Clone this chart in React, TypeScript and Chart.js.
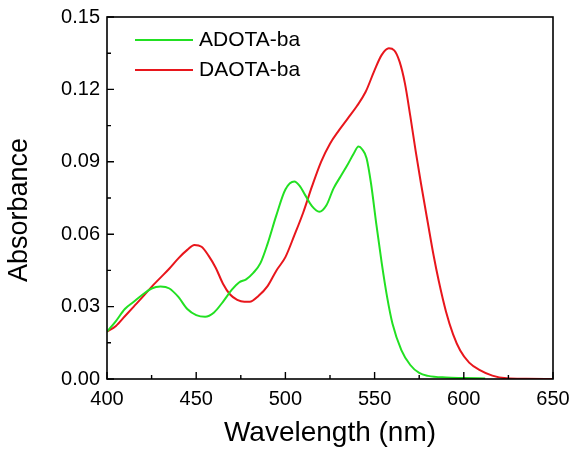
import React, { useEffect, useRef } from 'react';
import { Chart, registerables } from 'chart.js';

Chart.register(...registerables);

const adotaNm = [400, 405, 410, 415, 420, 425, 430, 435, 440, 445, 450, 455, 460, 465, 470, 474, 478, 482, 486, 490, 495, 500, 505, 508, 511, 515, 519, 523, 527, 531, 535, 538, 541, 543, 545.5, 548, 551, 554, 557, 560, 565, 570, 575, 580, 590, 600, 612];
const adotaAbs = [0.0196, 0.024, 0.029, 0.032, 0.035, 0.0375, 0.0383, 0.0375, 0.034, 0.029, 0.0265, 0.0258, 0.0276, 0.032, 0.037, 0.04, 0.0413, 0.044, 0.048, 0.056, 0.068, 0.0785, 0.0818, 0.08, 0.0763, 0.0715, 0.0693, 0.072, 0.079, 0.084, 0.089, 0.093, 0.0963, 0.0952, 0.0915, 0.081, 0.064, 0.048, 0.034, 0.023, 0.012, 0.0058, 0.0025, 0.0013, 0.0006, 0.0004, 0.0002];

const daotaNm = [400, 405, 410, 415, 420, 425, 430, 435, 440, 445, 449, 453, 457, 461, 465, 469, 473, 477, 480, 485, 490, 495, 500, 505, 510, 515, 520, 525, 530, 535, 540, 545, 550, 554, 558, 561, 564, 567, 570, 573, 576, 580, 583, 586, 590, 594, 598, 603, 609, 616, 624, 635, 650];
const daotaAbs = [0.0196, 0.022, 0.026, 0.03, 0.034, 0.0382, 0.042, 0.0458, 0.05, 0.0535, 0.0555, 0.0548, 0.051, 0.046, 0.0395, 0.035, 0.0328, 0.032, 0.032, 0.0345, 0.0385, 0.045, 0.0505, 0.0595, 0.069, 0.08, 0.09, 0.0975, 0.103, 0.108, 0.113, 0.119, 0.128, 0.1343, 0.137, 0.1362, 0.1315, 0.1225, 0.109, 0.0945, 0.081, 0.064, 0.0515, 0.0405, 0.028, 0.0185, 0.0118, 0.0068, 0.0037, 0.0014, 0.0003, 0.0001, 0];

const seriesNames = ['ADOTA-ba', 'DAOTA-ba'];
const seriesColors = ['#22e022', '#e8161c'];

const xMajorTicks = [400, 450, 500, 550, 600, 650];
const xMinorTicks = [425, 475, 525, 575, 625];
const yMajorTicks = [0, 0.03, 0.06, 0.09, 0.12, 0.15];
const yMinorTicks = [0.015, 0.045, 0.075, 0.105, 0.135];

const xTitle = 'Wavelength (nm)';
const yTitle = 'Absorbance';

const FONT = "'Liberation Sans', Arial, sans-serif";

const framePlugin = {
  id: 'frameTicks',
  afterDraw(chart: any) {
    const { ctx, chartArea } = chart;
    const xs = chart.scales.x;
    const ys = chart.scales.y;
    const { left, right, top, bottom } = chartArea;
    ctx.save();
    ctx.strokeStyle = '#000';
    ctx.lineWidth = 1.6;
    ctx.strokeRect(left, top, right - left, bottom - top);
    ctx.lineWidth = 1.4;
    ctx.beginPath();
    xMajorTicks.forEach((v) => {
      const px = xs.getPixelForValue(v);
      ctx.moveTo(px, bottom);
      ctx.lineTo(px, bottom - 7);
    });
    xMinorTicks.forEach((v) => {
      const px = xs.getPixelForValue(v);
      ctx.moveTo(px, bottom);
      ctx.lineTo(px, bottom - 4);
    });
    yMajorTicks.forEach((v) => {
      const py = ys.getPixelForValue(v);
      ctx.moveTo(left, py);
      ctx.lineTo(left + 7, py);
    });
    yMinorTicks.forEach((v) => {
      const py = ys.getPixelForValue(v);
      ctx.moveTo(left, py);
      ctx.lineTo(left + 4, py);
    });
    ctx.stroke();

    // legend
    ctx.font = `21px ${FONT}`;
    ctx.textBaseline = 'middle';
    ctx.textAlign = 'left';
    seriesNames.forEach((name, i) => {
      const y = 40 + i * 30;
      ctx.strokeStyle = seriesColors[i];
      ctx.lineWidth = 2;
      ctx.beginPath();
      ctx.moveTo(135, y);
      ctx.lineTo(193, y);
      ctx.stroke();
      ctx.fillStyle = '#000';
      ctx.fillText(name, 199, y);
    });

    // y title
    ctx.translate(20, 210);
    ctx.rotate(-Math.PI / 2);
    ctx.font = `27px ${FONT}`;
    ctx.textAlign = 'center';
    ctx.textBaseline = 'middle';
    ctx.fillStyle = '#000';
    ctx.fillText(yTitle, 0, 0);
    ctx.restore();
  },
};

export default function App() {
  const ref = useRef<HTMLCanvasElement | null>(null);
  useEffect(() => {
    if (!ref.current) return;
    const datasets = [
      { label: seriesNames[0], data: adotaNm.map((x, i) => ({ x, y: adotaAbs[i] })), borderColor: seriesColors[0] },
      { label: seriesNames[1], data: daotaNm.map((x, i) => ({ x, y: daotaAbs[i] })), borderColor: seriesColors[1] },
    ].map((d) => ({ ...d, borderWidth: 2, pointRadius: 0, fill: false, tension: 0.4, cubicInterpolationMode: 'monotone' as const }));

    const chart = new Chart(ref.current, {
      type: 'line',
      data: { datasets },
      options: {
        animation: false,
        responsive: false,
        layout: { padding: { top: 17, right: 19, left: 0, bottom: 0 } },
        plugins: { legend: { display: false }, tooltip: { enabled: false } },
        scales: {
          x: {
            type: 'linear',
            min: 400,
            max: 650,
            afterBuildTicks: (s: any) => { s.ticks = xMajorTicks.map((value) => ({ value })); },
            afterFit: (s: any) => { s.height = 71; s.paddingLeft = 0; s.paddingRight = 0; },
            grid: { display: false, drawTicks: false },
            border: { display: false },
            ticks: { color: '#000', padding: 8, font: { family: FONT, size: 20 }, maxRotation: 0, autoSkip: false },
            title: { display: true, text: xTitle, color: '#000', font: { family: FONT, size: 28 }, padding: { top: 0, bottom: 0 } },
          },
          y: {
            type: 'linear',
            min: 0,
            max: 0.15,
            afterBuildTicks: (s: any) => { s.ticks = yMajorTicks.map((value) => ({ value })); },
            afterFit: (s: any) => { s.width = 107; s.paddingTop = 0; s.paddingBottom = 0; },
            grid: { display: false, drawTicks: false },
            border: { display: false },
            ticks: { color: '#000', padding: 7, font: { family: FONT, size: 20 }, autoSkip: false, callback: (v: any) => Number(v).toFixed(2) },
          },
        },
      },
      plugins: [framePlugin],
    });
    return () => chart.destroy();
  }, []);
  return (
    <div style={{ position: 'absolute', left: 0, top: 0, width: 572, height: 450, background: '#fff' }}>
      <canvas ref={ref} width={572} height={450} style={{ display: 'block' }} />
    </div>
  );
}
